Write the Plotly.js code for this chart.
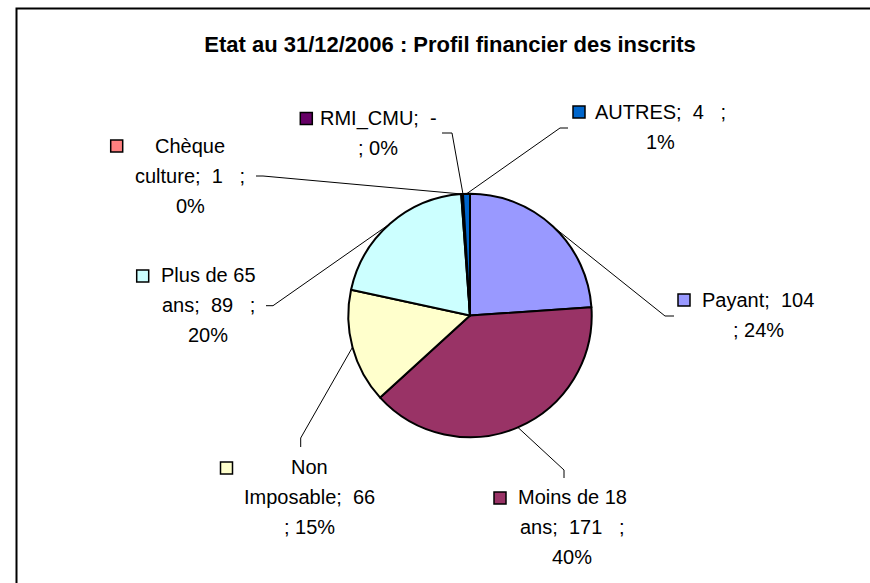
<!DOCTYPE html>
<html>
<head>
<meta charset="utf-8">
<script src="https://cdn.plot.ly/plotly-3.0.1.min.js"></script>
<style>html,body{margin:0;padding:0;background:#fff;}#chart{width:870px;height:583px;}</style>
</head>
<body>
<div id="chart"></div>
<script>
// ---- data ----
const categories = ["Payant", "Moins de 18 ans", "Non Imposable", "Plus de 65 ans", "Chèque culture", "RMI_CMU", "AUTRES"];
const values = [104, 171, 66, 89, 1, 0, 4];
const valueLabels = ["104", "171", "66", "89", "1", "-", "4"];
const percentLabels = ["24%", "40%", "15%", "20%", "0%", "0%", "1%"];
const colors = ["#9999FF", "#993366", "#FFFFCC", "#CCFFFF", "#FF8080", "#660066", "#0066CC"];
const chartTitle = "Etat au 31/12/2006 : Profil financier des inscrits";

// ---- layout constants (pixels) ----
const W = 870, H = 583;
const cx = 470, cy = 315.5, R = 121.7;
const FONT = "Liberation Sans, Arial, sans-serif";
const LABEL_SIZE = 20, LINE_H = 30;
const NB = "\u00A0";

// how each label block is laid out: text centre x, first line y, key centre, leader elbow & end
// style: A = [c; v] [; p]   B = [c; v ;] [p]   C = [c-first] [c-rest; v ;] [p]   D = [c-first] [c-rest; v] [; p]
const labelLayout = [
  {style: "A", split: 1, tx: 758, ty: 300, kx: 684, ky: 300, elbow: [665, 316], end: [674, 316]},
  {style: "C", split: 3, tx: 572, ty: 497, kx: 500, ky: 498, elbow: [564, 470], end: [564, 478]},
  {style: "D", split: 1, tx: 309.5, ty: 467, kx: 226.5, ky: 468, elbow: [300.7, 438], end: [300.7, 447]},
  {style: "C", split: 3, tx: 208, ty: 275, kx: 142.7, ky: 276, elbow: [273, 305.7], end: [266, 305.7]},
  {style: "C", split: 1, tx: 190, ty: 146, kx: 116.7, ky: 146, elbow: [263, 176], end: [256, 176]},
  {style: "A", split: 1, tx: 378, ty: 118.3, kx: 306.3, ky: 118.5, elbow: [452, 133], end: [442, 133]},
  {style: "B", split: 1, tx: 660, ty: 111.7, kx: 579, ky: 112, elbow: [560, 128], end: [568, 128]}
];

function px(x) { return x / W; }
function py(y) { return 1 - y / H; }

function labelLines(i) {
  const L = labelLayout[i];
  const words = categories[i].split(" ");
  const first = words.slice(0, L.split).join(" ");
  const rest = words.slice(L.split).join(" ");
  const c = categories[i], v = valueLabels[i], p = percentLabels[i];
  const sep = ";" + NB + NB;
  switch (L.style) {
    case "A": return [c + sep + v, ";" + NB + p];
    case "B": return [c + sep + v + NB + NB + NB + ";", p];
    case "C": return [first, rest + sep + v + NB + NB + NB + ";", p];
    case "D": return [first, rest + sep + v, ";" + NB + p];
  }
}

const total = values.reduce((a, b) => a + b, 0);
let cum = 0;
const annotations = [];
const shapes = [];

// chart border (cut by the picture on the right and bottom)
shapes.push({type: "rect", xref: "paper", yref: "paper", x0: px(16.5), x1: px(W + 20), y0: py(8.5), y1: py(H + 20),
  line: {color: "#000", width: 2}, fillcolor: "rgba(0,0,0,0)", layer: "below"});

categories.forEach((cat, i) => {
  const a0 = cum / total * 360;
  cum += values[i];
  const a1 = cum / total * 360;
  const mid = (a0 + a1) / 2 * Math.PI / 180;
  const ex = cx + R * Math.sin(mid), ey = cy - R * Math.cos(mid);
  const L = labelLayout[i];
  shapes.push({type: "path", xref: "paper", yref: "paper",
    path: `M ${px(ex)} ${py(ey)} L ${px(L.elbow[0])} ${py(L.elbow[1])} L ${px(L.end[0])} ${py(L.end[1])}`,
    line: {color: "#000", width: 1}});
  const k = 6;
  shapes.push({type: "rect", xref: "paper", yref: "paper",
    x0: px(L.kx - k), x1: px(L.kx + k), y0: py(L.ky - k), y1: py(L.ky + k),
    fillcolor: colors[i], line: {color: "#000", width: 1.5}});
  labelLines(i).forEach((t, j) => {
    annotations.push({xref: "paper", yref: "paper", x: px(L.tx), y: py(L.ty + j * LINE_H),
      xanchor: "center", yanchor: "middle", text: t, showarrow: false,
      font: {family: FONT, size: LABEL_SIZE, color: "#000"}});
  });
});

const trace = {
  type: "pie",
  labels: categories,
  values: values,
  sort: false,
  direction: "clockwise",
  rotation: 0,
  textinfo: "none",
  hoverinfo: "label+value+percent",
  marker: {colors: colors, line: {color: "#000", width: 2}},
  domain: {x: [px(cx - R), px(cx + R)], y: [py(cy + R), py(cy - R)]}
};

const layout = {
  width: W, height: H,
  margin: {l: 0, r: 0, t: 0, b: 0},
  paper_bgcolor: "#fff",
  showlegend: false,
  title: {text: "<b>" + chartTitle + "</b>", x: 450 / W, xanchor: "center", y: py(44), yanchor: "middle",
    font: {family: FONT, size: 22, color: "#000"}},
  annotations: annotations,
  shapes: shapes
};

Plotly.newPlot("chart", [trace], layout, {staticPlot: true, displayModeBar: false});
</script>
</body>
</html>
